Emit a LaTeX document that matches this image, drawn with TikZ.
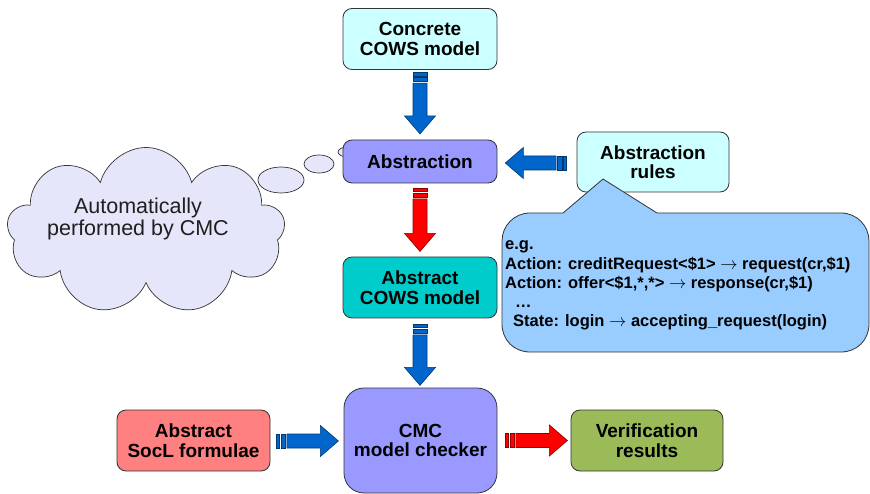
\documentclass[tikz,border=0pt]{standalone}
\usepackage{fontspec}
\setmainfont{Liberation Sans}
\usetikzlibrary{shapes.symbols,shapes.geometric,calc}

\definecolor{cyanL}{HTML}{CCFFFF}
\definecolor{perw}{HTML}{9999FF}
\definecolor{tealB}{HTML}{00CCCC}
\definecolor{salmonB}{HTML}{FF8080}
\definecolor{oliveB}{HTML}{9BBB59}
\definecolor{callfill}{HTML}{99CCFF}
\definecolor{cloudfill}{HTML}{E6E6FA}
\definecolor{arrblue}{HTML}{0066CC}
\definecolor{arrred}{HTML}{FF0000}
\definecolor{edgec}{HTML}{333333}

\newcommand{\stripearrow}[4]{%
 \begin{scope}[shift={#1}, rotate=#2]
   \filldraw[#4] (0,-7) rectangle (3.3,7);
   \filldraw[#4] (4.6,-7) rectangle (9,7);
   \filldraw[#4] (10.5,-7) -- ({#3-18},-7) -- ({#3-18},-15.5) -- (#3,0) -- ({#3-18},15.5) -- ({#3-18},7) -- (10.5,7) -- cycle;
 \end{scope}}

\tikzset{
  box/.style={draw=edgec, line width=0.8pt, rounded corners=9pt, minimum width=154pt,
    minimum height=61pt, align=center, inner sep=0pt,
    font=\bfseries\fontsize{19}{19.5}\selectfont},
  barblue/.style={fill=arrblue, draw=arrblue!55!black, line width=0.6pt},
  barred/.style={fill=arrred, draw=arrred!55!black, line width=0.6pt},
  callout/.style={fill=callfill, draw=edgec, line width=0.8pt},
  bubble/.style={ellipse, draw=edgec, fill=cloudfill, line width=0.7pt, inner sep=0pt},
}

\begin{document}
\begin{tikzpicture}[x=1pt, y=-1pt]
\useasboundingbox (0,0) rectangle (870,494);

% cloud
\node[cloud, cloud puffs=9, aspect=1.66, draw=edgec, fill=cloudfill, line width=0.7pt,
      minimum width=278pt, minimum height=167pt, inner sep=0pt] (cloud) at (146,231) {};
\node[bubble, minimum width=46pt, minimum height=26pt] (b1) at (281,180) {};
\node[bubble, minimum width=30pt, minimum height=18pt] (b2) at (319,164) {};
\node[bubble, minimum width=19pt, minimum height=10pt] (b3) at (347.5,152) {};
\node[anchor=base, inner sep=0pt, text=black!88] (cloudtxt) at (138,214)
  {\fontsize{21.5}{21}\selectfont\begin{tabular}[t]{@{}c@{}}Automatically\\performed by CMC\end{tabular}};

% boxes
\node[box, fill=cyanL] (concrete) at (420,39) {Concrete\\COWS model};
\node[box, fill=perw, minimum height=43pt] (abstr) at (420,161.5) {Abstraction};
\node[box, fill=cyanL, minimum width=152pt, minimum height=60pt] (rules) at (653,162) {Abstraction\\rules};
\node[box, fill=tealB] (acows) at (420,287.5) {Abstract\\COWS model};
\node[box, fill=perw, minimum width=153pt, minimum height=105pt, rounded corners=20pt] (cmc) at (420.5,440.5) {CMC\\model checker};
\node[box, fill=salmonB, minimum width=153pt] (socl) at (193.5,440.5) {Abstract\\SocL formulae};
\node[box, fill=oliveB, minimum width=152pt] (verif) at (647,440.5) {Verification\\results};

% callout
\draw[callout] (563,213) -- (603,179) -- (657,213) -- (841,213)
  .. controls (857,213) and (869,226) .. (869,241) -- (869,324)
  .. controls (869,340) and (857,352) .. (841,352) -- (530,352)
  .. controls (514,352) and (502,340) .. (502,324) -- (502,241)
  .. controls (502,226) and (514,213) .. (530,213) -- cycle;
\node[anchor=base west, inner sep=0pt] (rulestxt) at (505,250)
  {\bfseries\fontsize{16.5}{19.2}\selectfont\begin{tabular}[t]{@{}l@{}}
  e.g.\\
  Action: creditRequest<\$1> $\rightarrow$ request(cr,\$1)\\
  Action: offer<\$1,*,*> $\rightarrow$ response(cr,\$1)\\
  \hspace{10pt}\ldots\\
  \hspace{8pt}State: login $\rightarrow$ accepting\_request(login)
  \end{tabular}};

% arrows
\stripearrow{($(concrete.south)+(0,2.7)$)}{-90}{61.3}{barblue}
\stripearrow{($(rules.west)+(-10,1)$)}{180}{61.3}{barblue}
\stripearrow{($(abstr.south)+(0,5)$)}{-90}{63}{barred}
\stripearrow{($(acows.south)+(0,6)$)}{-90}{61}{barblue}
\stripearrow{($(socl.east)+(6,0.5)$)}{0}{62}{barblue}
\stripearrow{($(cmc.east)+(8,0)$)}{0}{62}{barred}
\end{tikzpicture}
\end{document}
